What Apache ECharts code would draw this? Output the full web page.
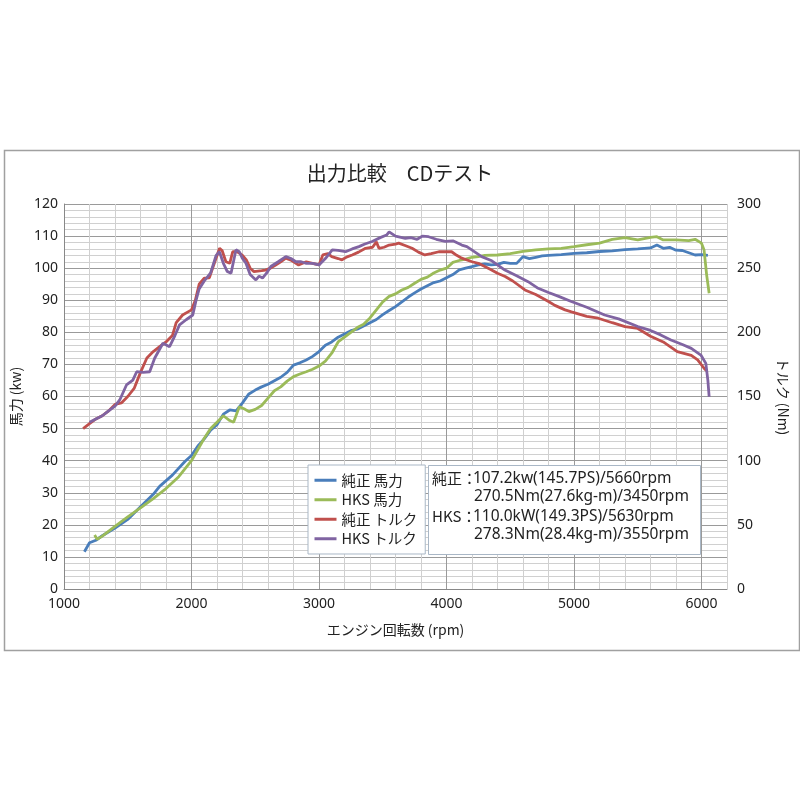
<!DOCTYPE html>
<html><head><meta charset="utf-8">
<script src="https://cdn.jsdelivr.net/npm/echarts@6/dist/echarts.min.js"></script>
<style>html,body{margin:0;padding:0;background:#fff}#c{width:800px;height:800px}</style>
</head><body><div id="c"></div>
<script>
// 純正 馬力 (kW)
const stdPowerRpm = [1160,1200,1250,1300,1400,1500,1600,1700,1750,1850,1950,2000,2050,2100,2150,2200,2250,2300,2350,2400,2450,2500,2550,2600,2700,2750,2800,2850,2900,2950,3000,3050,3100,3150,3200,3250,3300,3350,3400,3450,3500,3550,3600,3650,3700,3750,3800,3850,3900,3950,4000,4050,4100,4150,4200,4250,4300,4350,4400,4450,4500,4550,4600,4650,4700,4750,4800,4900,5000,5100,5200,5300,5400,5500,5600,5650,5700,5750,5800,5850,5900,5950,6000,6050];
const stdPowerKw = [11.6,14.4,15.2,16.6,19.0,21.7,25.6,29.5,32.0,35.5,39.8,41.6,44.6,46.8,49.5,51.2,54.5,55.8,55.5,58.0,60.8,62.0,63.0,63.8,66.0,67.5,69.8,70.5,71.4,72.5,74.0,76.0,77.0,78.5,79.5,80.5,81.0,82.0,83.0,84.0,85.5,86.8,88.0,89.5,91.0,92.3,93.5,94.5,95.5,96.0,97.0,98.0,99.5,100.0,100.5,101.0,101.3,101.0,101.2,101.8,101.5,101.5,103.6,103.0,103.4,103.8,104.0,104.2,104.6,104.8,105.2,105.4,105.8,106.0,106.3,107.2,106.2,106.5,105.6,105.5,104.8,104.1,104.2,104.0];
// HKS 馬力 (kW)
const hksPowerRpm = [1240,1260,1300,1400,1500,1600,1700,1800,1900,2000,2050,2100,2150,2200,2250,2300,2330,2375,2420,2450,2500,2550,2600,2650,2700,2750,2800,2850,2900,2950,3000,3050,3100,3150,3200,3250,3300,3350,3400,3450,3500,3550,3600,3650,3700,3750,3800,3850,3900,3950,4000,4050,4100,4150,4200,4250,4300,4400,4500,4600,4700,4800,4900,5000,5100,5200,5300,5400,5500,5600,5650,5700,5800,5900,5950,6000,6020,6040,6060];
const hksPowerKw = [16.8,15.5,16.5,19.5,22.5,25.3,28.2,31.3,35.0,40.0,43.5,47.0,50.0,52.0,54.0,52.5,52.0,56.8,56.0,55.3,56.0,57.2,59.5,61.8,63.0,64.8,66.2,67.0,67.7,68.5,69.5,71.0,73.5,77.0,78.5,80.0,81.5,82.5,84.5,87.0,89.5,91.2,92.0,93.2,94.0,95.3,96.5,97.2,98.5,99.4,100.0,101.8,102.4,102.8,103.4,103.6,104.0,104.1,104.5,105.2,105.7,106.0,106.2,106.7,107.3,107.8,109.0,109.5,108.8,109.6,109.8,108.8,108.8,108.6,109.0,107.8,105.7,98.0,92.2];
// 純正 トルク (Nm)
const stdTorqueRpm = [1150,1200,1250,1300,1350,1400,1450,1500,1550,1600,1650,1700,1750,1800,1850,1880,1930,2000,2030,2060,2100,2140,2170,2220,2240,2270,2300,2323,2360,2400,2430,2460,2490,2550,2580,2620,2660,2700,2740,2780,2840,2900,2950,3000,3030,3070,3100,3150,3180,3220,3260,3310,3365,3420,3450,3470,3510,3550,3600,3625,3680,3730,3780,3830,3880,3940,4000,4040,4080,4120,4200,4250,4300,4350,4400,4460,4520,4615,4700,4800,4850,4930,4980,5100,5190,5300,5400,5500,5600,5700,5810,5920,5970,6020,6040];
const stdTorqueNm = [125,128.8,132.5,135,138.8,143.8,145,150,156.3,168.8,180,185,188.8,192.5,197.5,207.5,213.5,217.5,225,237.5,242.3,242.5,251.3,265.5,263.8,255,253.8,262.8,262.8,260,256.5,250,247.3,248,248.5,250,252.5,255,257.8,256.3,252.5,255,253.8,252.5,260.3,261.3,259,257.5,256.5,258.8,260.3,262.5,265.5,266.3,270.5,265.5,266.3,268,268.8,269.5,267.5,265.5,262.5,260.3,261.3,262.8,262.8,262.8,260,257.8,255,253.8,251.3,248.8,246,243.5,240,233,229.5,224,221,217.5,216,212.5,211,207.5,204.5,203,197,192.5,185,182,178.5,172,170];
// HKS トルク (Nm)
const hksTorqueRpm = [1200,1250,1300,1350,1400,1437,1490,1540,1570,1620,1672,1711,1776,1828,1870,1906,1958,2010,2036,2060,2100,2150,2193,2219,2250,2280,2310,2349,2375,2400,2427,2460,2505,2530,2557,2590,2622,2680,2740,2780,2818,2860,2896,2950,3000,3050,3104,3150,3208,3260,3313,3360,3417,3480,3530,3550,3600,3677,3720,3770,3810,3859,3920,3990,4050,4120,4160,4198,4276,4350,4458,4550,4640,4719,4800,4880,4979,5100,5240,5350,5500,5600,5680,5760,5850,5920,5995,6034,6050,6060];
const hksTorqueNm = [130,132.5,135,138.8,142.5,147.3,159,162.8,169.3,168.8,169.3,179.8,191.5,188.8,197.5,205.8,209.8,213.5,225,233.8,240,246.3,260,262.8,253.8,247.5,246,264.3,262.8,257.5,253.8,245,240.8,243.8,242.3,246.3,251.3,255,259,257.5,255,255,253.8,253.8,252.5,257.5,264.3,263.8,262.8,265,266.8,268.8,270.8,273.8,275.8,278.3,275,273.3,273.8,272.5,275,274.5,272.5,270.8,271.3,268,266.8,264.3,259,256,248.5,244,239.5,234.3,231,228,224,219.5,213.5,210.5,204.5,201.5,198,194,190.5,187.5,182.3,175.8,162.5,149.8];

const seriesNames = ['純正 馬力','HKS 馬力','純正 トルク','HKS トルク'];
const seriesColors = ['#4a7ebb','#9bbb59','#c0504d','#8064a2'];
const titleText = '出力比較　CDテスト';
const noteLines = [
  ['純正：','107.2kw(145.7PS)/5660rpm'],
  ['','270.5Nm(27.6kg-m)/3450rpm'],
  ['HKS：','110.0kW(149.3PS)/5630rpm'],
  ['','278.3Nm(28.4kg-m)/3550rpm']
];

const pair = (xs, ys) => xs.map((x, i) => [x, ys[i]]);
const gridColors = ['#9a9a9a','#d0d0d0','#d0d0d0','#d0d0d0','#d0d0d0'];
const font = '"Noto Sans", "Noto Sans CJK JP", sans-serif';
const cjk = '"Noto Sans CJK JP", "Noto Sans", sans-serif';

const chart = echarts.init(document.getElementById('c'), null, {renderer: 'canvas'});
const noteGraphics = [];
const noteY = [471, 489, 509, 527];
noteLines.forEach((ln, i) => {
  if (ln[0]) noteGraphics.push({type:'text', left: 432, top: noteY[i], z: 20,
    style:{text: ln[0], font: '15px ' + cjk, fill:'#222'}});
  noteGraphics.push({type:'text', left: i % 2 === 0 ? 473 : 474, top: noteY[i], z: 20,
    style:{text: ln[1], font: '15.5px ' + font, fill:'#222'}});
});

chart.setOption({
  animation: false,
  backgroundColor: '#fff',
  title: {text: titleText, left: 'center', top: 158,
    textStyle: {fontFamily: cjk, fontSize: 20, fontWeight: 'normal', color: '#222'}},
  grid: {left: 64, right: 73, top: 204, bottom: 211},
  legend: {
    orient: 'vertical', left: 308, top: 465,
    data: seriesNames,
    backgroundColor: '#fff', borderColor: '#a9b7c6', borderWidth: 1,
    padding: [8, 8, 8, 5], itemGap: 5, itemWidth: 22, itemHeight: 13,
    itemStyle: {opacity: 0},
    lineStyle: {width: 3},
    textStyle: {fontFamily: cjk, fontSize: 14.5, color: '#222'}, z: 10
  },
  xAxis: {
    type: 'value', min: 1000, max: 6200, interval: 200,
    name: 'エンジン回転数 (rpm)', nameLocation: 'middle', nameGap: 34,
    nameTextStyle: {fontFamily: cjk, fontSize: 14, color: '#222'},
    axisLine: {show: true, lineStyle: {color: '#888', width: 1}},
    axisTick: {show: false},
    axisLabel: {margin: 8, fontFamily: font, fontSize: 14, color: '#222',
      formatter: v => (v % 1000 === 0 ? String(v) : '')},
    splitLine: {show: true, lineStyle: {color: gridColors, width: 1}}
  },
  yAxis: [{
    type: 'value', min: 0, max: 120, interval: 2, position: 'left',
    name: '馬力 (kw)', nameLocation: 'middle', nameGap: 38, nameRotate: 90,
    nameTextStyle: {fontFamily: cjk, fontSize: 14, color: '#222'},
    axisLine: {show: true, lineStyle: {color: '#888', width: 1}},
    axisTick: {show: false},
    axisLabel: {margin: 6, fontFamily: font, fontSize: 14, color: '#222',
      formatter: v => (v % 10 === 0 ? String(v) : '')},
    splitLine: {show: true, lineStyle: {color: gridColors, width: 1}}
  }, {
    type: 'value', min: 0, max: 300, interval: 50, position: 'right',
    name: 'トルク (Nm)', nameLocation: 'middle', nameGap: 49, nameRotate: -90,
    nameTextStyle: {fontFamily: cjk, fontSize: 14, color: '#222'},
    axisLine: {show: false},
    axisTick: {show: false},
    axisLabel: {margin: 10, fontFamily: font, fontSize: 14, color: '#222'},
    splitLine: {show: false}
  }],
  series: [
    {name: seriesNames[0], type: 'line', yAxisIndex: 0, data: pair(stdPowerRpm, stdPowerKw)},
    {name: seriesNames[1], type: 'line', yAxisIndex: 0, data: pair(hksPowerRpm, hksPowerKw)},
    {name: seriesNames[2], type: 'line', yAxisIndex: 1, data: pair(stdTorqueRpm, stdTorqueNm)},
    {name: seriesNames[3], type: 'line', yAxisIndex: 1, data: pair(hksTorqueRpm, hksTorqueNm)}
  ].map((s, i) => Object.assign(s, {
    symbol: 'none', color: seriesColors[i],
    lineStyle: {width: 2.8, color: seriesColors[i]}, z: 3
  })),
  graphic: [
    {type: 'rect', left: 2, top: 148, z: 0, silent: true,
      shape: {width: 795, height: 500},
      style: {fill: 'none', stroke: '#a0a0a0', lineWidth: 1.5}},
    {type: 'rect', left: 428, top: 465, z: 15,
      shape: {width: 272, height: 89},
      style: {fill: '#fff', stroke: '#a9b7c6', lineWidth: 1}}
  ].concat(noteGraphics)
});
</script></body></html>
